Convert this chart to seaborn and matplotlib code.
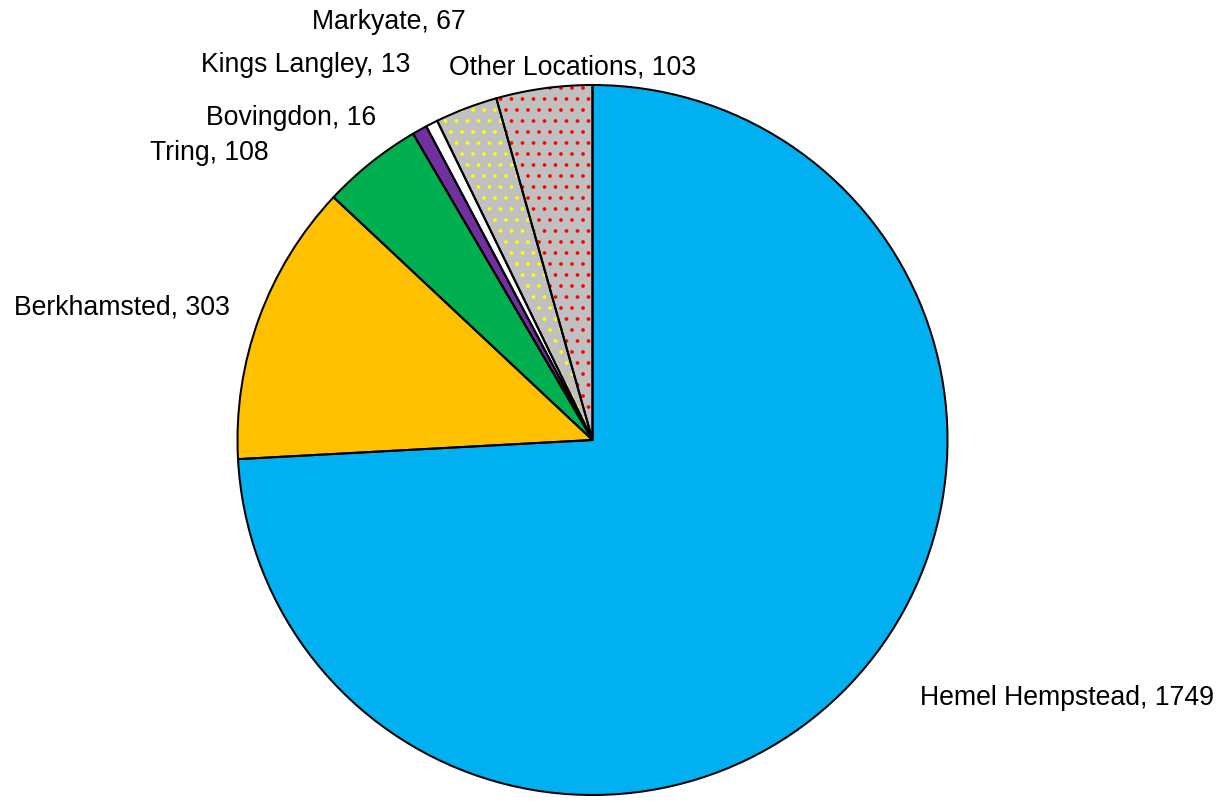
import matplotlib
matplotlib.use("Agg")
import matplotlib.pyplot as plt
import seaborn as sns

sns.set_style("white")
plt.rcParams["font.family"] = ["Liberation Sans", "DejaVu Sans"]
plt.rcParams["hatch.linewidth"] = 0.8

# data, clockwise from 12 o'clock
locations = ["Hemel Hempstead", "Berkhamsted", "Tring", "Bovingdon",
             "Kings Langley", "Markyate", "Other Locations"]
counts = [1749, 303, 108, 16, 13, 67, 103]
fills = ["#00B0F0", "#FFC000", "#00B050", "#7030A0",
         "#FFFFFF", "#C0C0C0", "#C0C0C0"]
dot_colors = [None, None, None, None, None, "#FFFF00", "#FF0000"]

# label placement (pixel positions of label centres, as in the reference)
label_xy = {
    "Hemel Hempstead": (1067, 698),
    "Berkhamsted": (122, 307),
    "Tring": (209, 153),
    "Bovingdon": (291, 118),
    "Kings Langley": (306, 65),
    "Markyate": (389, 22),
    "Other Locations": (573, 68),
}

W, H = 1225, 803
DPI = 132  # hatch tile is one inch, so this sets the dot spacing
fig = plt.figure(figsize=(W / DPI, H / DPI), dpi=DPI)
ax = fig.add_axes([0, 0, 1, 1])

centre = (592.5, H - 440)
rad = 355

pie_kw = dict(startangle=90, counterclock=False, center=centre, radius=rad,
              frame=True)

# fill
ax.pie(counts, colors=fills, wedgeprops=dict(linewidth=0), **pie_kw)

# dotted patterns
wedges, _ = ax.pie(counts, colors=["none"] * len(counts),
                   wedgeprops=dict(linewidth=0), **pie_kw)
for w, dc in zip(wedges, dot_colors):
    if dc is None:
        w.set_visible(False)
    else:
        w.set_facecolor("none")
        w.set_edgecolor(dc)
        w.set_hatch("..")
        w.set_linewidth(0)

# outlines
ax.pie(counts, colors=["none"] * len(counts),
       wedgeprops=dict(edgecolor="black", linewidth=1.1, facecolor="none"),
       **pie_kw)

ax.set_xlim(0, W)
ax.set_ylim(0, H)
ax.set_aspect("equal")
ax.axis("off")

for name, n in zip(locations, counts):
    x, y = label_xy[name]
    ax.text(x, H - y, f"{name}, {n}", ha="center", va="center",
            fontsize=14.5, color="black")

fig.savefig("out.png", dpi=DPI)
